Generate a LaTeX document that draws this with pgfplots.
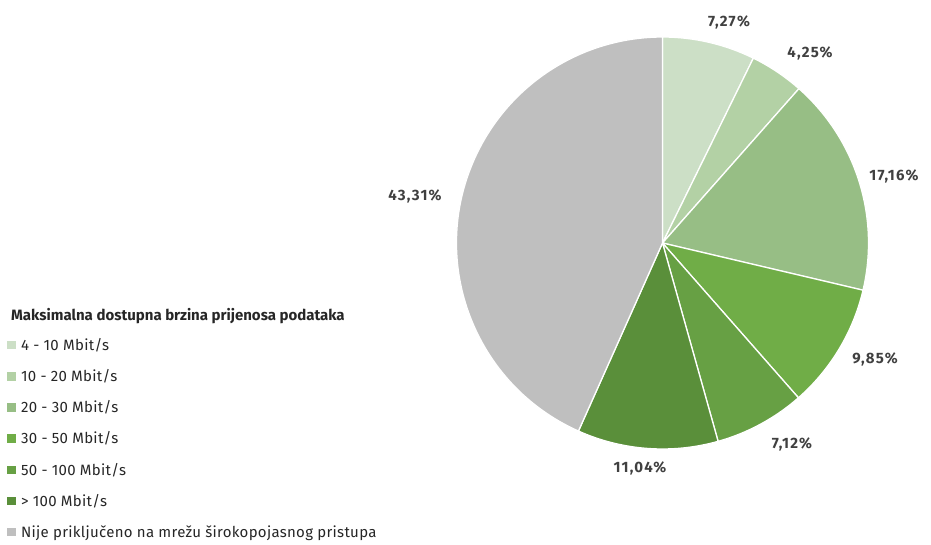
\documentclass[border=0pt]{standalone}
\usepackage{pgfplots}
\pgfplotsset{compat=1.18}
\usepackage{pgfplotstable}
\usepackage{fontspec}
\setmainfont{Fira Sans}
\newfontfamily\lblfont[LetterSpace=8]{Fira Sans}
\newfontfamily\legfont[LetterSpace=2]{Fira Sans}
\definecolor{c0}{HTML}{CCDFC6}
\definecolor{c1}{HTML}{B3D1A5}
\definecolor{c2}{HTML}{97BE85}
\definecolor{c3}{HTML}{70AD47}
\definecolor{c4}{HTML}{67A044}
\definecolor{c5}{HTML}{5A8F3A}
\definecolor{c6}{HTML}{BFBFBF}
\definecolor{lbl}{HTML}{404040}
\pgfplotstableread{
value
7.27
4.25
17.16
9.85
7.12
11.04
43.31
}\piedata
\def\cx{662.5}
\def\cy{301}
\def\R{206}
\begin{document}
\begin{tikzpicture}
% cumulative angles from the table (clockwise from 12 o'clock)
\pgfmathsetmacro{\cum}{90}
\foreach \i in {0,...,6}{%
  \pgfplotstablegetelem{\i}{value}\of\piedata
  \pgfmathsetmacro{\st}{\cum}%
  \pgfmathsetmacro{\en}{\cum-3.6*\pgfplotsretval}%
  \expandafter\xdef\csname sa\i\endcsname{\st}%
  \expandafter\xdef\csname ea\i\endcsname{\en}%
  \xdef\cum{\en}%
}
\begin{axis}[
  width=931pt, height=544pt, scale only axis,
  xmin=0, xmax=931, ymin=0, ymax=544,
  hide axis, clip=false,
  legend style={draw=none, fill=none, at={(axis cs:7,208)}, anchor=north west,
    font=\fontsize{15}{17}\legfont, text=black!85, row sep=13.6pt,
    inner sep=0pt, cells={anchor=west},
    /tikz/every odd column/.append style={column sep=4pt}},
]
\pgfplotsinvokeforeach{0,...,6}{
  \fill[c#1, draw=white, line width=1.3pt] (axis cs:\cx,\cy) -- ++(\csname sa#1\endcsname:\R pt)
    arc[start angle=\csname sa#1\endcsname, end angle=\csname ea#1\endcsname, radius=\R pt] -- cycle;
}
\addlegendimage{legend image code/.code={\fill[c0] (0pt,-3.5pt) rectangle (7.5pt,4pt);}}
\addlegendimage{legend image code/.code={\fill[c1] (0pt,-3.5pt) rectangle (7.5pt,4pt);}}
\addlegendimage{legend image code/.code={\fill[c2] (0pt,-3.5pt) rectangle (7.5pt,4pt);}}
\addlegendimage{legend image code/.code={\fill[c3] (0pt,-3.5pt) rectangle (7.5pt,4pt);}}
\addlegendimage{legend image code/.code={\fill[c4] (0pt,-3.5pt) rectangle (7.5pt,4pt);}}
\addlegendimage{legend image code/.code={\fill[c5] (0pt,-3.5pt) rectangle (7.5pt,4pt);}}
\addlegendimage{legend image code/.code={\fill[c6] (0pt,-3.5pt) rectangle (7.5pt,4pt);}}
\legend{4 - 10 Mbit/s, 10 - 20 Mbit/s, 20 - 30 Mbit/s, 30 - 50 Mbit/s, 50 - 100 Mbit/s, > 100 Mbit/s, Nije priključeno na mrežu širokopojasnog pristupa}
\node[anchor=west, inner sep=0pt, font=\fontsize{15}{17}\selectfont\bfseries, text=black!85] at (axis cs:11,228) {Maksimalna dostupna brzina prijenosa podataka};
\begin{scope}[every node/.style={font=\fontsize{15}{17}\lblfont\bfseries, text=lbl, inner sep=0pt}]
\node at (axis cs:729,522) {7,27\%};
\node at (axis cs:810,491) {4,25\%};
\node at (axis cs:894,368) {17,16\%};
\node at (axis cs:875,185) {9,85\%};
\node at (axis cs:792,100) {7,12\%};
\node at (axis cs:640,76) {11,04\%};
\node at (axis cs:415,348) {43,31\%};
\end{scope}
\end{axis}
\pgfresetboundingbox
\path (0,0) rectangle (931pt,544pt);
\end{tikzpicture}
\end{document}
